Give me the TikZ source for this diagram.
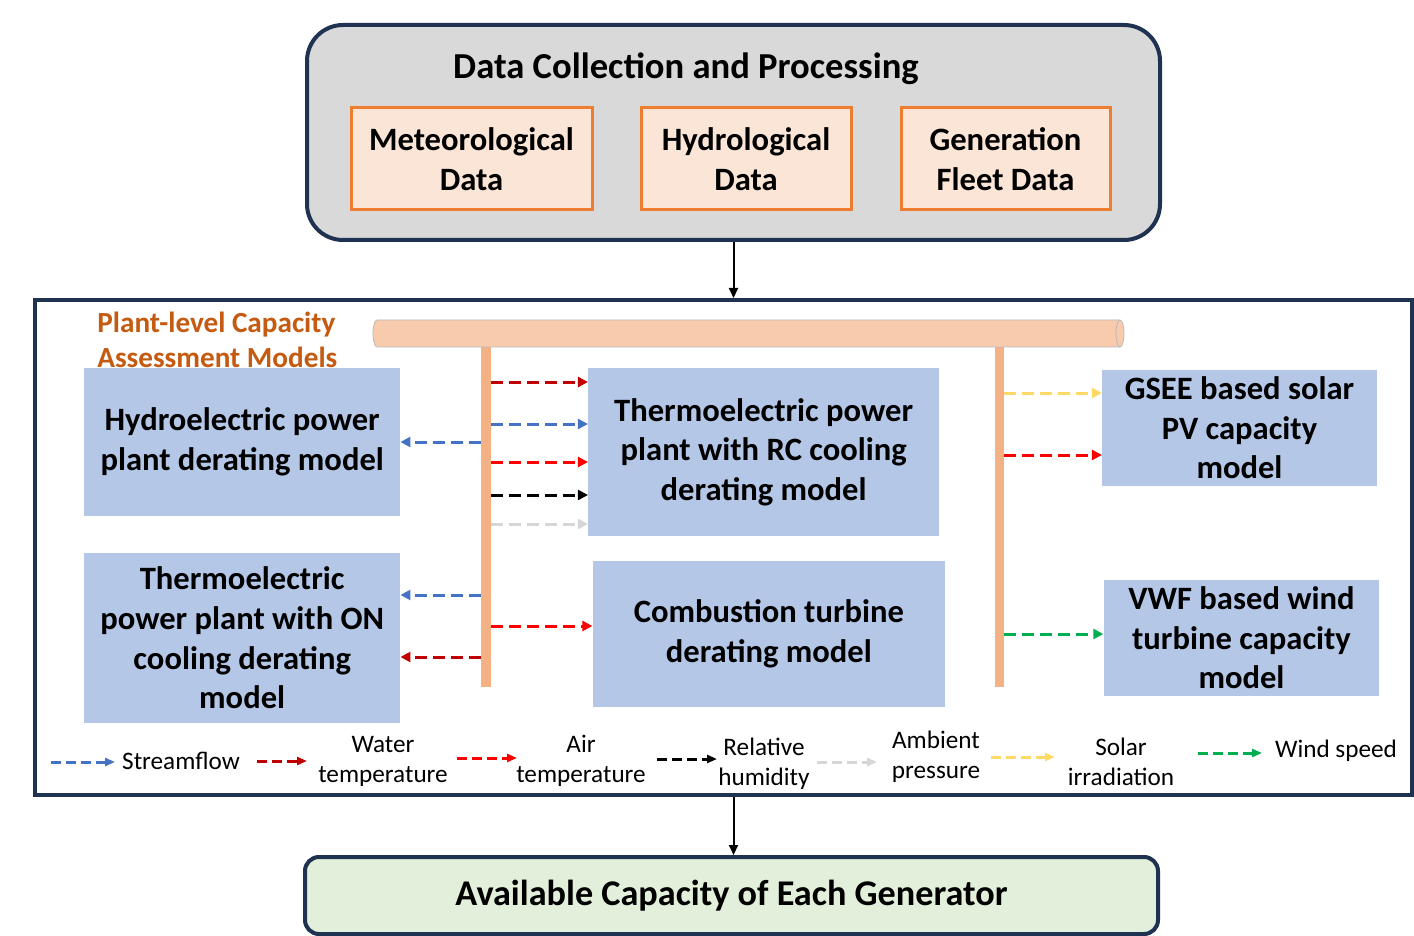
\documentclass[tikz,border=0pt]{standalone}
\usepackage{fontspec}
\setmainfont{Carlito}
\usetikzlibrary{arrows.meta}
\definecolor{navy}{HTML}{1F3251}
\definecolor{grayfill}{HTML}{D9D9D9}
\definecolor{peach}{HTML}{FBE5D6}
\definecolor{orangeline}{HTML}{ED7D31}
\definecolor{modelblue}{HTML}{B4C7E7}
\definecolor{pipefill}{HTML}{F8CBAD}
\definecolor{barfill}{HTML}{F4B183}
\definecolor{titleorange}{HTML}{C55A11}
\definecolor{resultgreen}{HTML}{E2EFDA}
\definecolor{sfblue}{HTML}{4472C4}
\definecolor{wtred}{HTML}{C00000}
\definecolor{atred}{HTML}{FF0000}
\definecolor{apgray}{HTML}{D6D6D6}
\definecolor{siyellow}{HTML}{FFD966}
\definecolor{wsgreen}{HTML}{00B050}

\begin{document}
\begin{tikzpicture}[x=0.5pt,y=-0.5pt,
    datasrc/.style={draw=orangeline,line width=1.5pt,fill=peach,inner sep=0pt,align=center,
      minimum height=51pt,font=\fontsize{16.3}{20}\selectfont\bfseries},
    model/.style={fill=modelblue,inner sep=0pt,align=center,font=\fontsize{16.3}{19.8}\selectfont\bfseries},
    bus/.style={fill=barfill,inner sep=0pt,minimum width=4.75pt,minimum height=170pt},
    var/.style={line width=1.5pt,dash pattern=on 6pt off 3pt,-{Triangle[length=5pt,width=5pt]}},
    keyvar/.style={line width=1.5pt,dash pattern=on 5pt off 2.5pt,-{Triangle[length=5pt,width=4pt]}},
    key/.style={inner sep=0pt,align=center,font=\fontsize{12.6}{15}\selectfont},
    flow/.style={line width=1pt,-{Triangle[length=5pt,width=4.5pt]}}]
  \useasboundingbox (0,0) rectangle (1414,936);

  % data collection
  \node[draw=navy,line width=2pt,fill=grayfill,rounded corners=18pt,inner sep=0pt,
    minimum width=426.5pt,minimum height=107.5pt] (collect) at (733.5,132.5) {};
  \node[font=\fontsize{18.3}{22}\selectfont\bfseries] (collecttitle) at (686,69) {Data Collection and Processing};
  \node[datasrc,minimum width=120.5pt] (met) at (471.5,159) {Meteorological\\Data};
  \node[datasrc,minimum width=105pt] (hyd) at (746,159) {Hydrological\\Data};
  \node[datasrc,minimum width=104.5pt] (fleet) at (1005.5,159) {Generation\\Fleet Data};

  % capacity models
  \node[draw=navy,line width=2pt,fill=white,inner sep=0pt,
    minimum width=688.5pt,minimum height=247.5pt] (frame) at (723.5,547.5) {};
  \node[anchor=west,inner sep=0pt,align=left,text=titleorange,
    font=\fontsize{14.6}{17.2}\selectfont\bfseries] (plantlabel) at (97,340) {Plant-level Capacity\\Assessment Models};
  \node[bus] (busL) at (486.2,517) {};
  \node[bus] (busR) at (999.3,517) {};
  \node[inner sep=0pt,outer sep=0pt,minimum width=375.5pt,minimum height=13.5pt] (pipe) at (748.5,333.5) {};
  \draw[gray!55,fill=pipefill] ([xshift=2pt]pipe.north west) -- ([xshift=-2pt]pipe.north east)
    arc[start angle=90,end angle=-90,x radius=2pt,y radius=6.75pt]
    -- ([xshift=2pt]pipe.south west)
    arc[start angle=270,end angle=90,x radius=2pt,y radius=6.75pt] -- cycle;
  \draw[gray!55] ([xshift=-2pt]pipe.north east) arc[start angle=90,end angle=270,x radius=2pt,y radius=6.75pt];

  \node[model,minimum width=157.85pt,minimum height=73.7pt] (hydro) at (242.2,442) {Hydroelectric power\\plant derating model};
  \node[model,minimum width=157.85pt,minimum height=84.7pt] (on) at (242.2,638) {Thermoelectric\\power plant with ON\\cooling derating\\model};
  \node[model,minimum width=175.35pt,minimum height=84pt] (rc) at (763.7,452) {Thermoelectric power\\plant with RC cooling\\derating model};
  \node[model,minimum width=176.15pt,minimum height=73.15pt] (ct) at (768.9,633.9) {Combustion turbine\\derating model};
  \node[model,minimum width=137.2pt,minimum height=58pt] (gsee) at (1239.5,428) {GSEE based solar\\PV capacity\\model};
  \node[model,minimum width=137.8pt,minimum height=58.15pt] (vwf) at (1241.5,637.9) {VWF based wind\\turbine capacity\\model};

  \draw[var,wtred] (busL.east |- 0,382) -- (rc.west |- 0,382);
  \draw[var,sfblue] (busL.east |- 0,424) -- (rc.west |- 0,424);
  \draw[var,atred] (busL.east |- 0,462) -- (rc.west |- 0,462);
  \draw[var,black] (busL.east |- 0,495) -- (rc.west |- 0,495);
  \draw[var,apgray] (busL.east |- 0,524) -- (rc.west |- 0,524);
  \draw[var,atred] (busL.east |- 0,626) -- (ct.west |- 0,626);
  \draw[var,sfblue] (busL.west |- 0,442) -- (hydro.east |- 0,442);
  \draw[var,sfblue] (busL.west |- 0,595) -- (on.east |- 0,595);
  \draw[var,wtred] (busL.west |- 0,657) -- (on.east |- 0,657);
  \draw[var,siyellow] (busR.east |- 0,393) -- (gsee.west |- 0,393);
  \draw[var,atred] (busR.east |- 0,455) -- (gsee.west |- 0,455);
  \draw[var,wsgreen] (busR.east |- 0,634) -- (vwf.west |- 0,634);

  % legend
  \node[key] (lgsflow) at (181,761) {Streamflow};
  \node[key] (lgwater) at (383,761) {Water\\temperature};
  \node[key] (lgair) at (581,761) {Air\\temperature};
  \node[key] (lghum) at (764,764) {Relative\\humidity};
  \node[key] (lgpress) at (936,756.5) {Ambient\\pressure};
  \node[key] (lgsolar) at (1121,762) {Solar\\irradiation};
  \node[key] (lgwind) at (1336,751) {Wind speed};
  \draw[keyvar,sfblue] (51,762) -- (115,762);
  \draw[keyvar,wtred] (257,761) -- (307,761);
  \draw[keyvar,atred] (457,758) -- (517,758);
  \draw[keyvar,black] (657,759) -- (717,759);
  \draw[keyvar,apgray] (817,762) -- (877,762);
  \draw[keyvar,siyellow] (991,757) -- (1055,757);
  \draw[keyvar,wsgreen] (1198,753) -- (1262,753);

  % result
  \node[draw=navy,line width=2pt,fill=resultgreen,rounded corners=7pt,inner sep=0pt,
    minimum width=426.5pt,minimum height=38.5pt,
    font=\fontsize{18.1}{22}\selectfont\bfseries] (result) at (731.5,895.5) {Available Capacity of Each Generator};

  \draw[flow] (collect.south) -- (collect.south |- frame.north);
  \draw[flow] (frame.south -| collect.south) -- (result.north -| collect.south);
\end{tikzpicture}
\end{document}
